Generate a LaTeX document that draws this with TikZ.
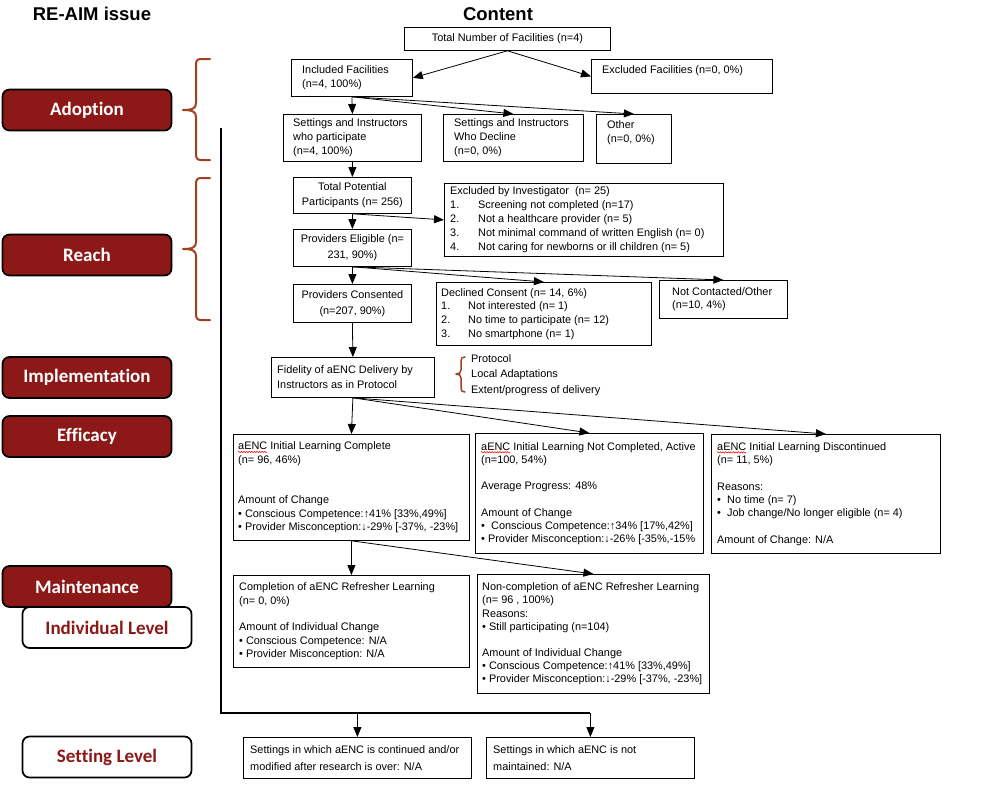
\documentclass[tikz,border=0pt]{standalone}
\usepackage{fontspec}
\setmainfont{Liberation Sans}
\newfontfamily\carl{Carlito}[Ligatures=NoCommon]
\usetikzlibrary{arrows.meta,decorations.pathmorphing,calc}
\definecolor{dred}{RGB}{140,24,24}
\definecolor{brn}{RGB}{160,64,30}
\newcommand\mkbox[8]{%
 \node[bx, minimum width=#4pt, minimum height=#5pt] (#1) at (#2,#3) {};
 \node[tx, anchor=west, font=\fontsize{10.9}{#8}\selectfont] (#1t) at ([xshift=#6pt]#1.west) {#7};}
\newcommand\nb[1]{\makebox[28pt][l]{#1}}
\newcommand\nc[1]{\makebox[27pt][l]{#1}}
\newcommand\bl{\makebox[10pt][l]{•}}
\begin{document}
\begin{tikzpicture}[x=1pt,y=-1pt,
 bx/.style={draw, line width=0.8pt, anchor=north west, inner sep=0pt},
 tx/.style={inner sep=0pt, align=left},
 cbx/.style={bx, align=center, font=\fontsize{10.9}{15}\selectfont},
 ar/.style={line width=0.8pt, -{Triangle[length=10pt,width=8pt]}},
 lab/.style={draw=black, line width=1.7pt, rounded corners=7pt, fill=dred, text=white,
   font=\carl\bfseries\fontsize{19}{22}\selectfont, minimum width=169pt, minimum height=41pt, inner sep=0pt},
 labw/.style={lab, fill=white, text=dred},
 br/.style={draw=brn, line width=2pt, line cap=round, line join=round},
 vline/.style={line width=1.8pt},
 sq/.style={draw=red, line width=0.5pt, decorate, decoration={snake, amplitude=0.7pt, segment length=2.6pt}}]
\useasboundingbox (0,0) rectangle (990,790);

% headers
\node[font=\bfseries\fontsize{18.5}{20}\selectfont] (h1) at (92,14) {RE-AIM issue};
\node[font=\bfseries\fontsize{18.5}{20}\selectfont] (h2) at (498,14) {Content};

% left labels
\node[lab] (lAdopt) at (87,110) {Adoption};
\node[lab] (lReach) at (87,255) {Reach};
\node[lab] (lImpl) at (87,377.5) {Implementation};
\node[lab] (lEff) at (87,436.5) {Efficacy};
\node[lab] (lMaint) at (87,586.5) {Maintenance};
\node[labw] (lInd) at (107,627.5) {Individual Level};
\node[labw] (lSet) at (107,757) {Setting Level};

% braces
\draw[br] (210,59) -- (201,59) .. controls (197,59) and (196,61) .. (196,65) -- (196,103)
  .. controls (196,108) and (193,110) .. (183,110) .. controls (193,110) and (196,112) .. (196,117)
  -- (196,154) .. controls (196,158) and (197,160) .. (201,160) -- (210,160);
\draw[br] (210,178) -- (201,178) .. controls (197,178) and (196,180) .. (196,184) -- (196,242)
  .. controls (196,247) and (193,249) .. (183,249) .. controls (193,249) and (196,251) .. (196,256)
  -- (196,314) .. controls (196,318) and (197,320) .. (201,320) -- (210,320);
\draw[br, line width=1.5pt] (465,357) .. controls (462,357) and (461,358) .. (461,361) -- (461,370)
  .. controls (461,373) and (459,374) .. (456,374) .. controls (459,374) and (461,375) .. (461,378)
  -- (461,388) .. controls (461,391) and (462,392) .. (465,392);

% adoption
\node[cbx, minimum width=206pt, minimum height=23pt] (total) at (404,27) {Total Number of Facilities (n=4)};
\mkbox{incl}{291}{59}{121}{37}{11}{Included Facilities\\(n=4, 100\%)}{14}
\mkbox{excl}{591}{59}{181}{34}{11}{Excluded Facilities (n=0, 0\%)\\\mbox{}}{13.5}
\mkbox{part}{283}{114}{138}{47}{10}{Settings and Instructors\\who participate\\(n=4, 100\%)}{14}
\mkbox{decl}{443}{114}{140}{47}{11}{Settings and Instructors\\Who Decline\\(n=0, 0\%)}{14}
\mkbox{oth}{596}{114}{75}{49}{11}{Other\\(n=0, 0\%)\\\mbox{}}{14}

% reach
\node[cbx, minimum width=118pt, minimum height=36pt] (tpp) at (293,177) {Total Potential\\Participants (n= 256)};
\mkbox{exinv}{444}{183}{279}{73}{6}{Excluded by Investigator\ \ (n= 25)\\
\nb{1.}Screening not completed (n=17)\\
\nb{2.}Not a healthcare provider (n= 5)\\
\nb{3.}Not minimal command of written English (n= 0)\\
\nb{4.}Not caring for newborns or ill children (n= 5)}{14}
\node[cbx, minimum width=118pt, minimum height=37pt, font=\fontsize{10.9}{16}\selectfont] (elig) at (293,229) {Providers Eligible (n=\\231, 90\%)};
\node[cbx, minimum width=118pt, minimum height=38pt, font=\fontsize{10.9}{16}\selectfont] (cons) at (293,284) {Providers Consented\\(n=207, 90\%)};
\mkbox{declc}{436}{282}{215}{63}{5}{Declined Consent (n= 14, 6\%)\\
\nc{1.}Not interested (n= 1)\\
\nc{2.}No time to participate (n= 12)\\
\nc{3.}No smartphone (n= 1)}{13.8}
\mkbox{notc}{659}{280}{128}{38}{13}{Not Contacted/Other\\(n=10, 4\%)}{13.5}

% implementation
\mkbox{fid}{271}{357}{163}{40}{6}{Fidelity of aENC Delivery by\\Instructors as in Protocol}{15}
\node[tx, anchor=west, font=\fontsize{10.9}{15.5}\selectfont] (impl) at (471,375) {Protocol\\Local Adaptations\\Extent/progress of delivery};

% efficacy
\mkbox{comp}{233}{434}{236}{106}{5}{aENC Initial Learning Complete\\(n= 96, 46\%)\\\mbox{}\\\mbox{}\\
Amount of Change\\
• Conscious Competence:↑41\% [33\%,49\%]\\
• Provider Misconception:↓-29\% [-37\%, -23\%]}{13.5}
\mkbox{ncomp}{475}{433}{228}{120}{6}{aENC Initial Learning Not Completed, Active\\(n=100, 54\%)\\\mbox{}\\
Average Progress: 48\%\\\mbox{}\\
Amount of Change\\
\bl Conscious Competence:↑34\% [17\%,42\%]\\
• Provider Misconception:↓-26\% [-35\%,-15\%}{13.2}
\mkbox{disc}{711}{434}{229}{119}{6}{aENC Initial Learning Discontinued\\(n= 11, 5\%)\\\mbox{}\\
Reasons:\\
\bl No time (n= 7)\\
\bl Job change/No longer eligible (n= 4)\\\mbox{}\\
Amount of Change: N/A}{13.3}

% maintenance
\mkbox{compl}{233}{575}{236}{92}{6}{Completion of aENC Refresher Learning\\(n= 0, 0\%)\\\mbox{}\\
Amount of Individual Change\\
• Conscious Competence: N/A\\
• Provider Misconception: N/A}{13.4}
\mkbox{nonc}{477}{574}{232}{119}{5}{Non-completion of aENC Refresher Learning\\(n= 96 , 100\%)\\
Reasons:\\
• Still participating (n=104)\\\mbox{}\\
Amount of Individual Change\\
• Conscious Competence:↑41\% [33\%,49\%]\\
• Provider Misconception:↓-29\% [-37\%, -23\%]}{13.1}

% setting level
\mkbox{setc}{243}{737}{228}{41}{7}{Settings in which aENC is continued and/or\\modified after research is over: N/A}{17}
\mkbox{setn}{486}{737}{208}{41}{7}{Settings in which aENC is not\\maintained: N/A}{17}

% squiggles
\draw[sq] ([yshift=-10.3pt]compt.north west) -- ++(29,0);
\draw[sq] ([yshift=-10.3pt]ncompt.north west) -- ++(29,0);
\draw[sq] ([yshift=-10.3pt]disct.north west) -- ++(29,0);

% arrows
\draw[ar] (total.south) -- (incl.east);
\draw[ar] (total.south) -- (excl.west);
\draw[ar] (incl.south) -- (part.north);
\draw[ar] (incl.south) -- (decl.north);
\draw[ar] (incl.south) -- (oth.north);
\draw[ar] (part.south) -- (tpp.north);
\draw[ar] (tpp.south) -- (elig.north);
\draw[ar] (tpp.south) -- (exinv.west);
\draw[ar] (elig.south) -- (cons.north);
\draw[ar] (elig.south) -- (declc.north);
\draw[ar] (elig.south) -- (notc.north);
\draw[ar] (cons.south) -- (fid.north);
\draw[ar] (fid.south) -- (comp.north);
\draw[ar] (fid.south) -- (ncomp.north);
\draw[ar] (fid.south) -- (disc.north);
\draw[ar] (comp.south) -- (compl.north);
\draw[ar] (comp.south) -- (nonc.north);

% maintenance line
\coordinate (vtop) at (221,128);
\coordinate (vbot) at (221,713);
\draw[vline] (vtop) -- (vbot) -- (setn.north |- vbot);
\draw[ar] (setc.north |- vbot) -- (setc.north);
\draw[ar] (setn.north |- vbot) -- (setn.north);
\end{tikzpicture}
\end{document}
